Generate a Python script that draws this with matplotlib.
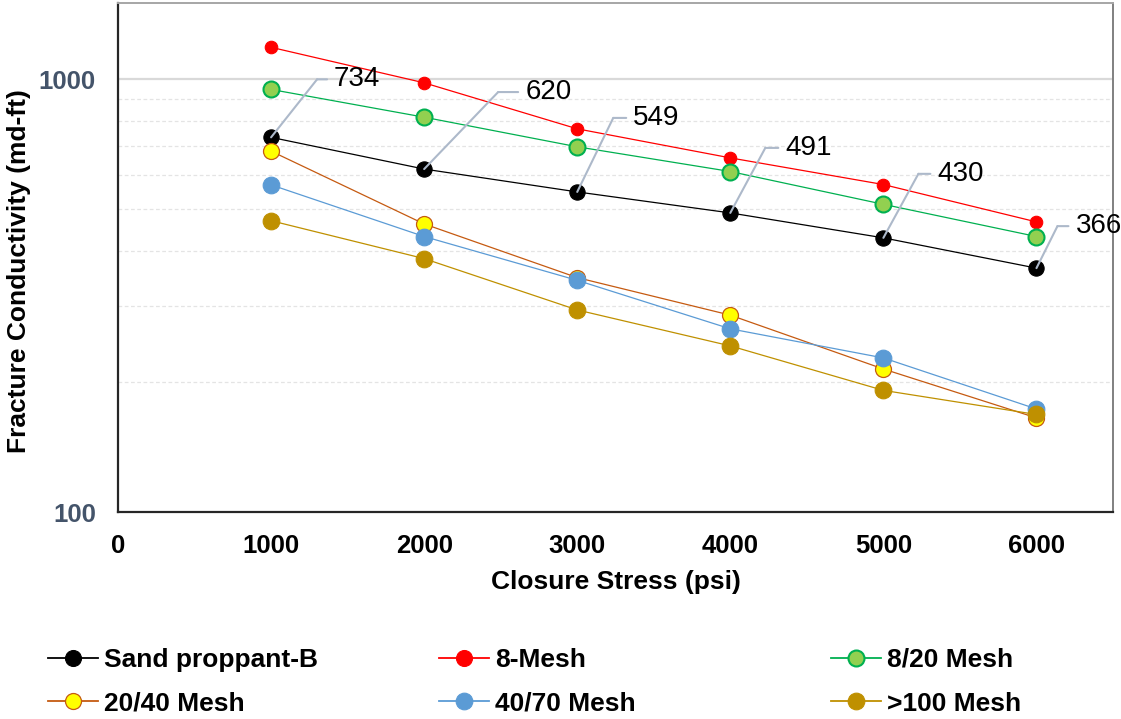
import matplotlib
matplotlib.use("Agg")
import matplotlib.pyplot as plt
from matplotlib.ticker import FixedLocator, NullFormatter, FixedFormatter
from matplotlib.transforms import offset_copy
from matplotlib.lines import Line2D

plt.rcParams['font.family'] = ['Liberation Sans', 'DejaVu Sans']

# ---- data ----
closure_stress = [1000, 2000, 3000, 4000, 5000, 6000]
sand_proppant_b = [734, 620, 549, 491, 430, 366]
mesh_8 = [1185, 981, 768, 658, 571, 468]
mesh_8_20 = [947, 817, 698, 612, 514, 433]
mesh_20_40 = [682, 463, 348, 285, 214, 165]
mesh_40_70 = [570, 433, 343, 265, 227, 173]
mesh_100 = [471, 385, 293, 242, 191, 168]

series_names = ["Sand proppant-B", "8-Mesh", "8/20 Mesh",
                "20/40 Mesh", "40/70 Mesh", ">100 Mesh"]
x_ticks = [0, 1000, 2000, 3000, 4000, 5000, 6000]
y_ticks = [100, 1000]
y_tick_labels = ["100", "1000"]

# ---- styles ----
styles = {
    "Sand proppant-B": dict(color="#000000", mfc="#000000", mec="#000000", ms=11, mew=0.8),
    "8-Mesh": dict(color="#FF0000", mfc="#FF0000", mec="#FF0000", ms=9, mew=0.8),
    "8/20 Mesh": dict(color="#00B050", mfc="#92D050", mec="#00B050", ms=11.5, mew=1.5),
    "20/40 Mesh": dict(color="#C55A11", mfc="#FFFF00", mec="#C55A11", ms=11.5, mew=0.9),
    "40/70 Mesh": dict(color="#5B9BD5", mfc="#5B9BD5", mec="#5B9BD5", ms=12, mew=0.8),
    ">100 Mesh": dict(color="#BF9000", mfc="#BF9000", mec="#BF9000", ms=12, mew=0.8),
}
series_values = [sand_proppant_b, mesh_8, mesh_8_20, mesh_20_40, mesh_40_70, mesh_100]

fig = plt.figure(figsize=(11.21, 7.19), dpi=100)
ax = fig.add_axes([118 / 1121, 1 - 512 / 719, (1113 - 118) / 1121, (512 - 3) / 719])

ax.set_yscale("log")
ax.set_xlim(0, 6500)
ax.set_ylim(100, 1500)

# gridlines: solid at decades, dashed at minor values
minor_vals = [200, 300, 400, 500, 600, 700, 800, 900]
for v in minor_vals:
    ax.axhline(v, color="#E4E4E4", lw=0.9, ls=(0, (3, 2)), zorder=0)
ax.axhline(1000, color="#D9D9D9", lw=1.6, zorder=0)

# series in order, later ones drawn on top
for i, name in enumerate(series_names):
    st = styles[name]
    ax.plot(closure_stress, series_values[i], color=st["color"], lw=0.9,
            marker="o", ms=st["ms"], mfc=st["mfc"], mec=st["mec"], mew=st["mew"],
            zorder=3 + i * 0.1)

# data labels with leader lines (offsets in pixels)
label_elbow = [(46, 58), (74, 77), (36, 74), (35, 65), (35, 64), (21, 42)]
label_hlen = [10, 20, 13, 13, 12, 11]
leader_color = "#ADB9CA"
for x, y, (ex, ey), hl in zip(closure_stress, sand_proppant_b, label_elbow, label_hlen):
    t0 = ax.transData
    t1 = offset_copy(ax.transData, fig=fig, x=ex, y=ey, units="dots")
    t2 = offset_copy(ax.transData, fig=fig, x=ex + hl, y=ey, units="dots")
    ax.annotate("", xy=(x, y), xycoords=t0, xytext=(x, y), textcoords=t1,
                arrowprops=dict(arrowstyle="-", color=leader_color, lw=1.5,
                                shrinkA=0, shrinkB=0), zorder=4)
    ax.annotate("", xy=(x, y), xycoords=t1, xytext=(x, y), textcoords=t2,
                arrowprops=dict(arrowstyle="-", color=leader_color, lw=1.5,
                                shrinkA=0, shrinkB=0), zorder=4)
    ax.annotate(f"{y}", xy=(x, y), xytext=(ex + hl + 7, ey), textcoords="offset pixels",
                ha="left", va="center", fontsize=20, color="#000000", zorder=5,
                annotation_clip=False)

# axes
ax.set_xticks(x_ticks)
ax.set_xticklabels([str(v) for v in x_ticks], fontsize=18.5, fontweight="bold")
ax.yaxis.set_major_locator(FixedLocator(y_ticks))
ax.yaxis.set_major_formatter(FixedFormatter(y_tick_labels))
ax.yaxis.set_minor_locator(FixedLocator(minor_vals))
ax.yaxis.set_minor_formatter(NullFormatter())
ax.tick_params(axis="y", which="both", length=0, pad=16, labelsize=18.5,
               labelcolor="#44546A")
for lab in ax.get_yticklabels():
    lab.set_fontweight("bold")
ax.tick_params(axis="x", length=0, pad=15.5)

ax.set_xlabel("Closure Stress (psi)", fontsize=19, fontweight="bold", labelpad=9)
ax.set_ylabel("Fracture Conductivity (md-ft)", fontsize=19, fontweight="bold")
ax.yaxis.set_label_coords(-0.087, 0.473)

for side in ["left", "bottom"]:
    ax.spines[side].set_color("#262626")
    ax.spines[side].set_linewidth(1.6)
ax.spines["right"].set_color("#808080")
ax.spines["right"].set_linewidth(1.4)
ax.spines["top"].set_color("#A6A6A6")
ax.spines["top"].set_linewidth(1.4)

# legend: three columns, each a separate block
col_x = [47, 438, 830]
cols = [[0, 3], [1, 4], [2, 5]]
for cx, idxs in zip(col_x, cols):
    hs = []
    for i in idxs:
        st = styles[series_names[i]]
        hs.append(Line2D([], [], color=st["color"], lw=1.3, marker="o",
                         ms=max(st["ms"], 11.5), mfc=st["mfc"], mec=st["mec"],
                         mew=st["mew"]))
    fig.legend(hs, [series_names[i] for i in idxs],
               loc="upper left", bbox_to_anchor=(cx / 1121 - 0.0065, 1 - 640 / 719),
               frameon=False, prop=dict(size=19, weight="bold"),
               handlelength=1.9, handletextpad=0.25, labelspacing=0.75,
               borderaxespad=0, borderpad=0.3)

fig.savefig("out.png", dpi=100)
